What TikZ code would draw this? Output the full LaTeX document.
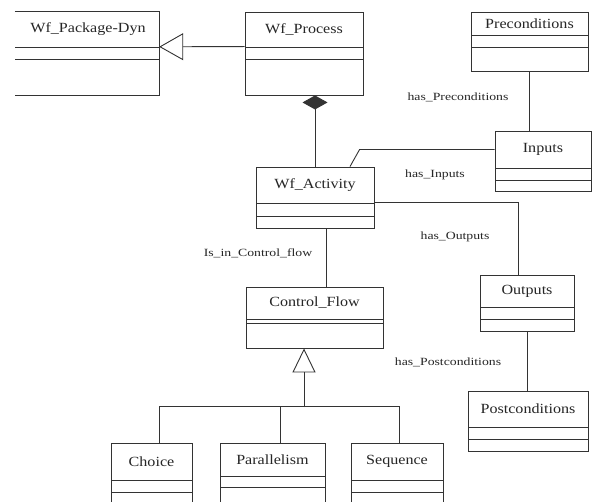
\documentclass[tikz,border=0pt]{standalone}
\usepackage{fontspec}
\setmainfont{Liberation Serif}
\newfontfamily\titlefont[FakeStretch=1.15]{Liberation Serif}
\newfontfamily\labfont[FakeStretch=1.25]{Liberation Serif}
\usetikzlibrary{arrows.meta,calc,fit}
\tikzset{
  umlline/.style={draw=black!80, line width=0.9pt},
  boxtitle/.style={font=\titlefont\fontsize{14}{16}\selectfont, text=black!85, inner sep=0pt},
  assoclabel/.style={font=\labfont\fontsize{11}{13}\selectfont, text=black!85, inner sep=0pt},
}
\newcommand\umlbox[8]{%
  \node[fit={(#2,#3)(#4,#5)}, inner sep=0pt, umlline] (#1) {};
  \draw[umlline] (#2,#6) -- (#4,#6);
  \draw[umlline] (#2,#7) -- (#4,#7);
  \node[boxtitle] (#1-t) at ({(#2+#4)/2},{(#3+#6)/2}) {#8};
}
\begin{document}
\begin{tikzpicture}[x=1pt,y=-1pt]
\clip (0,0) rectangle (593,502);
\fill[white] (0,0) rectangle (593,502);

% Wf_Package-Dyn (left side cut off)
\node[fit={(15,12)(159,95)}, inner sep=0pt] (Pkg) {};
\draw[umlline] (Pkg.north west) -- (Pkg.north east) -- (Pkg.south east) -- (Pkg.south west);
\draw[umlline] (15,47) -- (159,47);
\draw[umlline] (15,59) -- (159,59);
\node[boxtitle] (Pkg-t) at (88,29.5) {Wf\_Package-Dyn};

\umlbox{Proc}{245}{12}{363}{95}{47}{59}{Wf\_Process}
\umlbox{Pre}{471}{12}{588}{71}{35}{47}{Preconditions}
\umlbox{Inputs}{495}{131}{591}{191}{168}{180}{Inputs}
\umlbox{Act}{256}{167}{374}{228}{203}{216}{Wf\_Activity}
\umlbox{Outputs}{480}{275}{574}{331}{307}{319}{Outputs}
\umlbox{Post}{468}{391}{588}{451}{427}{439}{Postconditions}
\umlbox{CF}{246}{287}{383}{348}{319}{323}{Control\_Flow}
\umlbox{Choice}{111}{443}{192}{512}{480}{492}{Choice}
\umlbox{Par}{220}{443}{325}{512}{476}{487}{Parallelism}
\umlbox{Seq}{351}{443}{443}{512}{480}{492}{Sequence}

% generalization Wf_Process -> Wf_Package-Dyn
\draw[umlline, -{Triangle[open,length=24pt,width=27pt]}]
  ($(Proc.north west)+(0,35)$) -- ($(Pkg.north east)+(0,35)$);

% composition Wf_Process <>-- Wf_Activity
\draw[umlline, -{Diamond[length=14pt,width=25pt]}] (Act.north) -- (Act.north |- Proc.south);

% Preconditions -- Inputs
\draw[umlline] (Pre.south) -- (Pre.south |- Inputs.north);

% Inputs -- Wf_Activity
\draw[umlline] ($(Inputs.north west)+(0,19)$) -- ++(-135,0) -- ($(Act.north)+(35,0)$);

% Wf_Activity -- Outputs
\draw[umlline] ($(Act.north east)+(0,36)$) -| ($(Outputs.north)+(-9,0)$);

% Outputs -- Postconditions
\draw[umlline] (Outputs.south) -- (Outputs.south |- Post.north);

% Wf_Activity -- Control_Flow
\draw[umlline] ($(Act.south)+(11,0)$) coordinate (ac) -- (ac |- CF.north);

% generalization subclasses -> Control_Flow
\coordinate (gen) at (304,407);
\draw[umlline] ($(Choice.north)+(7.5,0)$) -- ++(0,-36) -| ($(Seq.north)+(2,0)$);
\draw[umlline] ($(Par.north)+(7.5,0)$) -- ++(0,-36);
\draw[umlline, -{Triangle[open,length=24pt,width=23pt]}] (gen) -- (gen |- CF.south);

% association labels
\node[assoclabel] (lpre) at (458,97) {has\_Preconditions};
\node[assoclabel] (lin) at (435,175) {has\_Inputs};
\node[assoclabel] (lout) at (455,237) {has\_Outputs};
\node[assoclabel] (lpost) at (448,362) {has\_Postconditions};
\node[assoclabel] (lcf) at (258,253) {Is\_in\_Control\_flow};
\end{tikzpicture}
\end{document}
